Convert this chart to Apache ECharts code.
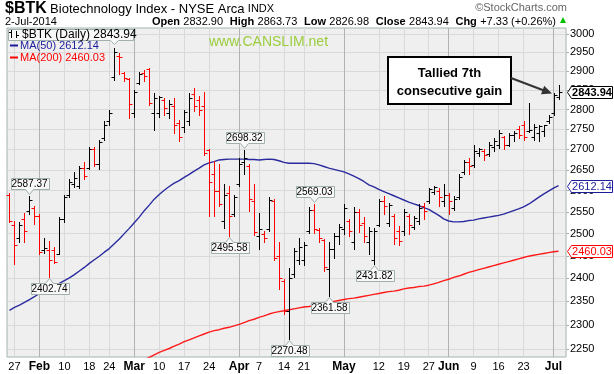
<!DOCTYPE html>
<html><head><meta charset="utf-8">
<script src="https://cdn.jsdelivr.net/npm/echarts@6/dist/echarts.min.js"></script>
<style>html,body{margin:0;padding:0;background:#fff}#c{width:614px;height:374px}</style>
</head><body><div id="c"></div>
<script>
// ---- data ----
const dates = ['01-24','01-27','01-28','01-29','01-30','01-31',
'02-03','02-04','02-05','02-06','02-07','02-10','02-11','02-12','02-13','02-14','02-18','02-19','02-20','02-21','02-24','02-25','02-26','02-27','02-28',
'03-03','03-04','03-05','03-06','03-07','03-10','03-11','03-12','03-13','03-14','03-17','03-18','03-19','03-20','03-21','03-24','03-25','03-26','03-27','03-28','03-31',
'04-01','04-02','04-03','04-04','04-07','04-08','04-09','04-10','04-11','04-14','04-15','04-16','04-17','04-21','04-22','04-23','04-24','04-25','04-28','04-29','04-30',
'05-01','05-02','05-05','05-06','05-07','05-08','05-09','05-12','05-13','05-14','05-15','05-16','05-19','05-20','05-21','05-22','05-23','05-27','05-28','05-29','05-30',
'06-02','06-03','06-04','06-05','06-06','06-09','06-10','06-11','06-12','06-13','06-16','06-17','06-18','06-19','06-20','06-23','06-24','06-25','06-26','06-27','06-30',
'07-01','07-02'];
const opens = [2590,2520,2490,2533,2552,2560,2540,2462,2462,2462,2455,2533,2590,2615,2612,2655,2655,2700,2665,2728,2772,
2885,2940,2895,2880,2790,2868,2895,2905,2790,2790,2825,2790,2810,2765,2755,2770,2840,2825,2810,
2698,2640,2600,2530,2594,2545,2615,2670,2660,2575,2495,2500,2510,2575,2450,2395,2330,2410,2440,2440,
2505,2555,2508,2485,2420,2465,2495,2510,2530,2480,2550,2525,2480,2440,2520,2575,2525,2540,2505,2505,
2540,2515,2530,2565,2575,2598,2600,2575,2590,2560,2585,2645,2670,2662,2690,2695,2688,2705,2710,2730,
2712,2735,2750,2760,2745,2730,2740,2745,2770,2790,2832.90];
const highs = [2594,2528,2527,2547,2587.37,2564,2545,2491,2484,2469,2538,2590,2627,2644,2660,2668,2706,2706,2724,2770,2800,
2962,2948,2899,2882,2851,2899,2903,2908,2842,2834,2830,2825,2830,2774,2800,2843,2856,2834,2845,
2702,2672,2663,2615,2610,2590,2680,2698.32,2663,2616,2548,2505,2585,2580,2482,2399,2422,2467,2490,2480,
2561,2569.03,2512,2487,2480,2501,2522,2568,2533,2561,2556,2538,2515,2513,2580,2588,2572,2546,2517,2556,
2545,2541,2568,2572,2606,2610,2606,2615,2594,2588,2639,2675,2680,2712,2703,2700,2719,2727,2749,2733,
2740,2745,2758,2771,2816,2764,2762,2762,2787,2843,2863.73];
const lows = [2527,2431,2481,2480,2545,2523,2454,2457,2402.74,2433,2454,2527,2584,2608,2607,2627,2651,2660,2651,2722,2762,
2877,2892,2873,2778,2781,2866,2873,2812,2749,2781,2786,2778,2741,2720,2743,2762,2797,2786,2687,
2541,2541,2563,2514,2495.58,2541,2610,2639,2553,2497,2465,2480,2507,2440,2377,2324,2270.48,2402,2432,2430,
2502,2502,2481,2416,2361.58,2445,2477,2499,2495,2465,2503,2481,2454,2431.82,2517,2545,2517,2477,2474,2496,
2499,2510,2522,2533,2572,2592,2564,2565,2545,2554,2580,2641,2639,2658,2683,2675,2683,2695,2704,2700,
2708,2720,2728,2724,2742,2724,2720,2733,2765,2787,2826.98];
const closes = [2530,2474,2520,2506,2578,2540,2458,2468,2440,2437,2533,2585,2620,2630,2655,2634,2700,2665,2718,2762,2790,
2952,2938,2882,2815,2845,2892,2887,2818,2830,2833,2805,2815,2760,2730,2795,2830,2808,2800,2692,
2620,2600,2568,2590,2541,2585,2665,2680,2580,2503,2510,2490,2578,2445,2400,2330,2400,2460,2470,2475,
2555,2510,2490,2425,2465,2495,2515,2560,2505,2550,2520,2495,2505,2506,2575,2564,2566,2490,2484,2550,
2520,2535,2560,2552,2603,2608,2585,2590,2575,2580,2632,2670,2660,2695,2700,2685,2712,2720,2740,2710,
2735,2740,2735,2730,2748,2755,2758,2760,2782,2836.61,2843.94];
const priorClose = 2600;
const ma50 = [2331,2337,2342,2348,2354,2360,2367,2372,2378,2384,2389,2395,2401,2408,2416,2424,2433,2441,2449,2458,2466,
2477,2488,2500,2512,2525,2538,2553,2566,2580,2591,2601,2610,2618,2624,2632,2639,2647,2654,2662,
2667,2670,2674,2675,2676,2676,2676,2676,2675,2675,2674,2675,2676,2675,2672,2668,2666,2666,2666,2666,
2666,2665,2662,2658,2654,2651,2648,2645,2640,2635,2629,2622,2614,2609,2603,2598,2593,2588,2583,2578,
2573,2569,2565,2560,2556,2549,2542,2534,2529,2527,2527,2528,2530,2531,2534,2536,2538,2540,2542,2545,
2549,2553,2557,2562,2568,2576,2584,2592,2599,2606,2612.14];
const ma200 = [null,null,null,null,null,null,null,null,null,null,null,null,null,null,null,null,null,null,null,null,null,
null,null,null,null,null,2222,2228,2233,2238,2243,2247,2251,2256,2260,2265,2269,2273,2277,2281,
2285,2288,2290,2293,2295,2298,2301,2305,2309,2312,2316,2319,2323,2326,2328,2330,2332,2334,2336,2338,
2339,2341,2343,2345,2347,2350,2352,2354,2356,2357,2359,2361,2363,2365,2367,2369,2371,2372,2374,2377,
2379,2380,2382,2383,2385,2388,2391,2395,2398,2402,2405,2409,2413,2416,2419,2422,2425,2428,2431,2434,
2437,2440,2443,2446,2449,2451,2453,2455,2457,2459,2460.03];
const yTicks = [2250,2300,2350,2400,2450,2500,2550,2600,2650,2700,2750,2800,2850,2900,2950,3000];
const xTickLabels = {'01-27':'27','02-03':'Feb','02-10':'10','02-18':'18','02-24':'24','03-03':'Mar','03-10':'10','03-17':'17','03-24':'24',
'04-01':'Apr','04-07':'7','04-14':'14','04-21':'21','05-01':'May','05-12':'12','05-19':'19','05-27':'27','06-02':'Jun','06-09':'9','06-16':'16','06-23':'23','07-01':'Jul'};
const monthNames = ['Feb','Mar','Apr','May','Jun','Jul'];
const annHighIdx = [4,47,61];
const annLowIdx = [8,44,56,64,73];
const peakIdx = 21;
// ---- chart ----
const FONT = '"Liberation Sans", Arial, sans-serif';
const cats = dates.concat(['']);
const last = closes.length - 1;
const ohlcData = dates.map((d,i)=>[i, opens[i], closes[i], lows[i], highs[i]]);
const showTick = (idx, val) => xTickLabels[val] !== undefined;
const splitColors = Object.keys(xTickLabels).map(k => monthNames.includes(xTickLabels[k]) ? '#b2b2b2' : '#d9d9d9');

function renderOHLC(params, api){
  const i = api.value(0), o = api.value(1), c = api.value(2), l = api.value(3), h = api.value(4);
  const pH = api.coord([i,h]), pL = api.coord([i,l]), pO = api.coord([i,o]), pC = api.coord([i,c]);
  const x = Math.round(pH[0]) + 0.5;
  const prev = i === 0 ? priorClose : closes[i-1];
  const col = c >= prev ? '#000000' : '#ff0000';
  const yo = Math.round(pO[1]) + 0.5, yc = Math.round(pC[1]) + 0.5;
  return {type:'group', children:[
    {type:'line', shape:{x1:x, y1:Math.round(pH[1]), x2:x, y2:Math.round(pL[1])+1}, style:{stroke:col, lineWidth:1}},
    {type:'line', shape:{x1:x-3, y1:yo, x2:x, y2:yo}, style:{stroke:col, lineWidth:1}},
    {type:'line', shape:{x1:x, y1:yc, x2:x+3, y2:yc}, style:{stroke:col, lineWidth:1}}
  ]};
}
function renderAnn(params, api){
  const i = api.value(0), v = api.value(1), dir = api.value(2);
  const p = api.coord([i, v]);
  const x = Math.round(p[0]) + 0.5;
  const w = 38, h = 11;
  const left = Math.round(x - w/2) + 0.5;
  let pts, ty;
  if (dir > 0) {
    const tip = Math.round(p[1]) - 1.5, base = tip - 5, top = base - h;
    pts = [[left,top],[left+w,top],[left+w,base],[x+4,base],[x,tip],[x-4,base],[left,base]];
    ty = top + h/2 + 0.5;
  } else {
    const tip = Math.round(p[1]) + 1.5, base = tip + 5;
    pts = [[left,base],[x-4,base],[x,tip],[x+4,base],[left+w,base],[left+w,base+h],[left,base+h]];
    ty = base + h/2 + 0.5;
  }
  return {type:'group', children:[
    {type:'polygon', shape:{points:pts}, style:{fill:'#f8f8f8', stroke:'#9fb0ae', lineWidth:1}},
    {type:'text', style:{text:v.toFixed(2), x:x, y:ty, align:'center', verticalAlign:'middle', font:'10px '+FONT, fill:'#000'}}
  ]};
}
function renderPeak(params, api){
  const p = api.coord([api.value(0), api.value(1)]);
  const x = Math.round(p[0]) + 0.5;
  const cs = params.coordSys;
  const left = cs.x + 1.5, right = 133.5, top = 29.5, base = 40.5;
  const pts = [[left,top],[right,top],[right,base],[x+4,base],[x,base+4],[x-4,base],[left,base]];
  return {type:'polygon', shape:{points:pts}, style:{fill:'#f8f8f8', stroke:'#9fb0ae', lineWidth:1}};
}
const tagStyles = [{c:'#000000', b:'#000000', bold:true},{c:'#1c1c9c', b:'#1c1c9c', bold:false},{c:'#ff0000', b:'#ff0000', bold:false}];
function renderTag(params, api){
  const v = api.value(1), k = api.value(2);
  const p = api.coord([api.value(0), v]);
  const cs = params.coordSys;
  const gx = cs.x + cs.width;
  const y = Math.round(p[1]) + 0.5;
  const s = tagStyles[k];
  const l = gx + 5.5, r = gx + 46.5, hh = 6;
  const pts = [[gx+1.5,y],[l,y-hh],[r,y-hh],[r,y+hh],[l,y+hh]];
  return {type:'group', children:[
    {type:'polygon', shape:{points:pts}, style:{fill:'#ffffff', stroke:s.b, lineWidth:1}},
    {type:'text', style:{text:v.toFixed(2), x:(l+r)/2, y:y+0.5, align:'center', verticalAlign:'middle', font:(s.bold?'bold ':'')+'11px '+FONT, fill:s.c}}
  ]};
}

const chart = echarts.init(document.getElementById('c'), null, {renderer:'canvas'});
chart.setOption({
  animation:false,
  backgroundColor:'#ffffff',
  grid:{left:7, right:48, top:28, bottom:17, show:true, backgroundColor:'#efefef', borderColor:'#a3b4b2', borderWidth:1},
  xAxis:{type:'category', data:cats, boundaryGap:true,
    axisLine:{show:false}, axisTick:{show:false},
    axisLabel:{interval:showTick, margin:4, color:'#000', fontFamily:FONT, fontSize:11,
      formatter:(v)=>{const t=xTickLabels[v]; return monthNames.includes(t)?'{m|'+t+'}':t;},
      rich:{m:{fontWeight:'bold', fontSize:12, fontFamily:FONT, color:'#000'}}},
    splitLine:{show:true, interval:showTick, alignWithLabel:true, lineStyle:{color:splitColors, width:1}}
  },
  yAxis:{type:'log', logBase:10, position:'right', min:2233.6, max:3016.5,
    axisLine:{show:false},
    axisTick:{show:true, inside:false, length:3, customValues:yTicks, lineStyle:{color:'#a3b4b2'}},
    axisLabel:{show:true, customValues:yTicks, margin:4, color:'#000', fontFamily:FONT, fontSize:11, formatter:(v)=>String(Math.round(v))},
    splitLine:{show:true, lineStyle:{color:'#d9d9d9', width:1}}
  },
  series:[
    {type:'line', data:ma200, symbol:'none', lineStyle:{color:'#ff1a1a', width:1.4}, z:3, silent:true},
    {type:'line', data:ma50, symbol:'none', lineStyle:{color:'#2a2a9e', width:1.4}, z:3, silent:true},
    {type:'custom', renderItem:renderOHLC, data:ohlcData, encode:{x:0, y:[1,2,3,4]}, z:4, silent:true},
    {type:'custom', renderItem:renderPeak, data:[[peakIdx, highs[peakIdx]]], encode:{x:0,y:1}, z:5, silent:true, clip:false},
    {type:'custom', renderItem:renderAnn, data:annHighIdx.map(i=>[i,highs[i],1]).concat(annLowIdx.map(i=>[i,lows[i],-1])), encode:{x:0,y:1}, z:6, silent:true, clip:false},
    {type:'custom', renderItem:renderTag, data:[[last, ma200[last], 2],[last, ma50[last], 1],[last, closes[last], 0]], encode:{x:0,y:1}, z:7, silent:true, clip:false}
  ],
  graphic:[
    {type:'text', left:5, top:1, z:10, style:{text:'{a|$BTK} {b|Biotechnology Index - NYSE Arca} {c|INDX}', rich:{
      a:{font:'bold 16px '+FONT, fill:'#000'}, b:{font:'13px '+FONT, fill:'#000'}, c:{font:'11px '+FONT, fill:'#000'}}}},
    {type:'text', x:5, y:22, z:10, style:{text:'2-Jul-2014', font:'11px '+FONT, fill:'#000', verticalAlign:'middle'}},
    {type:'text', x:556, y:22, z:10, style:{
      text:'{l|Open} {v|'+opens[last].toFixed(2)+'}  {l|High} {v|'+highs[last].toFixed(2)+'}  {l|Low} {v|'+lows[last].toFixed(2)+'}  {l|Close} {v|'+closes[last].toFixed(2)+'}  {l|Chg} {v|+'+(closes[last]-closes[last-1]).toFixed(2)+' (+'+((closes[last]-closes[last-1])/closes[last-1]*100).toFixed(2)+'%)}',
      align:'right', verticalAlign:'middle', rich:{l:{font:'bold 11px '+FONT, fill:'#000'}, v:{font:'11px '+FONT, fill:'#000'}}}},
    {type:'polygon', z:10, shape:{points:[[560,23],[566,23],[563,17]]}, style:{fill:'#00c000'}},
    {type:'text', x:567, y:8, z:10, style:{text:'\u00A9StockCharts.com', align:'right', verticalAlign:'middle', font:'11px '+FONT, fill:'#666'}},
    {type:'text', x:209, y:42, z:10, style:{text:'www.CANSLIM.net', verticalAlign:'middle', font:'14px '+FONT, fill:'#9acd3c'}},
    // legend
    {type:'line', z:10, shape:{x1:11.5,y1:30,x2:11.5,y2:38}, style:{stroke:'#000',lineWidth:1}},
    {type:'line', z:10, shape:{x1:9,y1:32.5,x2:11.5,y2:32.5}, style:{stroke:'#000',lineWidth:1}},
    {type:'line', z:10, shape:{x1:16.5,y1:31,x2:16.5,y2:38}, style:{stroke:'#000',lineWidth:1}},
    {type:'line', z:10, shape:{x1:16.5,y1:35.5,x2:19,y2:35.5}, style:{stroke:'#000',lineWidth:1}},
    {type:'text', x:22, y:35, z:10, style:{text:'$BTK (Daily) '+closes[last].toFixed(2), verticalAlign:'middle', font:'12px '+FONT, fill:'#000'}},
    {type:'line', z:10, shape:{x1:10,y1:45.5,x2:18,y2:45.5}, style:{stroke:'#1c1c9c',lineWidth:2}},
    {type:'text', x:20, y:46, z:10, style:{text:'MA(50) '+ma50[last].toFixed(2), verticalAlign:'middle', font:'11px '+FONT, fill:'#1c1c9c'}},
    {type:'line', z:10, shape:{x1:10,y1:57.5,x2:18,y2:57.5}, style:{stroke:'#ff0000',lineWidth:2}},
    {type:'text', x:20, y:58, z:10, style:{text:'MA(200) '+ma200[last].toFixed(2), verticalAlign:'middle', font:'11px '+FONT, fill:'#ff0000'}},
    // callout
    {type:'rect', z:10, shape:{x:388, y:57, width:123, height:47}, style:{fill:'#fff', stroke:'#000', lineWidth:2}},
    {type:'text', x:449.5, y:73, z:11, style:{text:'Tallied 7th', align:'center', verticalAlign:'middle', font:'bold 13px '+FONT, fill:'#000'}},
    {type:'text', x:449.5, y:91, z:11, style:{text:'consecutive gain', align:'center', verticalAlign:'middle', font:'bold 13px '+FONT, fill:'#000'}},
    {type:'line', z:10, shape:{x1:511,y1:78,x2:544,y2:90.5}, style:{stroke:'#333',lineWidth:2}},
    {type:'polygon', z:10, shape:{points:[[552,93.5],[541,94.2],[544.2,85.8]]}, style:{fill:'#333'}}
  ]
});
</script></body></html>
